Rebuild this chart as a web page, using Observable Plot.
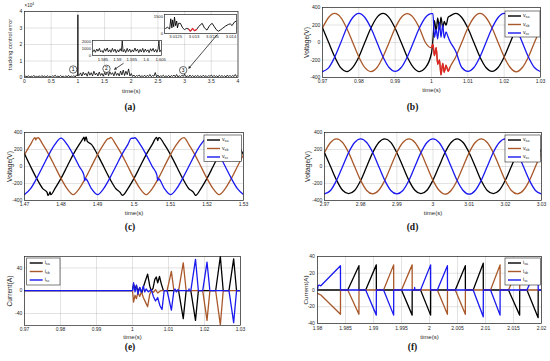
<!DOCTYPE html>
<html><head><meta charset="utf-8">
<script src="https://cdn.jsdelivr.net/npm/d3@7"></script>
<script src="https://cdn.jsdelivr.net/npm/@observablehq/plot@0.6"></script>
<style>
html,body{margin:0;padding:0;background:#fff;}
#fig{position:relative;width:550px;height:361px;overflow:hidden;background:#fff;}
#fig svg{position:absolute;}
</style></head><body><div id="fig"></div>
<script>
// ---------------- (a) tracking control error ----------------
const aXTicks = [0, 0.5, 1, 1.5, 2, 2.5, 3, 3.5, 4];
const aYTicks = [0, 10000, 20000, 30000, 40000];
const errPts = [
[0,300],[0.025,900],[0.05,400],[0.075,1100],[0.1,200],[0.125,800],[0.15,500],[0.175,1300],[0.2,300],[0.225,700],
[0.25,400],[0.275,1000],[0.3,250],[0.325,1200],[0.35,500],[0.375,900],[0.4,300],[0.425,1100],[0.45,400],[0.475,800],
[0.5,200],[0.525,1000],[0.55,600],[0.575,1400],[0.6,300],[0.625,900],[0.65,400],[0.675,1200],[0.7,500],[0.725,800],
[0.75,300],[0.775,1000],[0.8,400],[0.825,1300],[0.85,200],[0.875,900],[0.9,500],[0.925,1100],[0.95,300],[0.975,1600],
[0.996,900],[1.0,38000],[1.004,1500],
[1.025,1200],[1.05,2800],[1.075,900],[1.1,3200],[1.125,1500],[1.15,2600],[1.175,800],[1.2,3500],[1.225,1400],[1.25,2900],
[1.275,1000],[1.3,3800],[1.325,1600],[1.35,2700],[1.375,900],[1.4,3300],[1.425,1200],[1.45,2500],[1.475,800],[1.5,3000],
[1.525,1500],[1.55,4200],[1.575,1100],[1.6,3400],[1.625,1800],[1.65,2900],[1.675,1000],[1.7,3600],[1.725,1300],[1.75,2600],
[1.775,900],[1.8,3900],[1.825,1500],[1.85,4500],[1.875,1200],[1.9,3800],[1.925,1700],[1.95,5200],[1.975,900],[2.0,2400],
[2.025,600],[2.05,1500],[2.075,400],[2.1,1200],[2.125,700],[2.15,1600],[2.175,300],[2.2,1100],[2.225,500],[2.25,1400],
[2.275,400],[2.3,1300],[2.325,600],[2.35,1800],[2.375,500],[2.4,1200],[2.425,800],[2.45,3000],[2.475,400],[2.5,1500],
[2.525,300],[2.55,1100],[2.575,600],[2.6,1400],[2.625,400],[2.65,1000],[2.675,500],[2.7,1300],[2.725,300],[2.75,1200],
[2.775,700],[2.8,1500],[2.825,400],[2.85,1800],[2.875,300],[2.9,1100],[2.925,500],[2.95,1400],[2.975,600],[3.0,2000],
[3.025,400],[3.05,1000],[3.075,300],[3.1,1500],[3.125,500],[3.15,1200],[3.175,400],[3.2,1100],[3.225,600],[3.25,1300],
[3.275,300],[3.3,1000],[3.325,500],[3.35,1400],[3.375,400],[3.4,1200],[3.425,300],[3.45,1100],[3.475,700],[3.5,1500],
[3.525,400],[3.55,1300],[3.575,500],[3.6,1000],[3.625,300],[3.65,1400],[3.675,600],[3.7,1200],[3.725,400],[3.75,1100],
[3.775,300],[3.8,1500],[3.825,500],[3.85,1300],[3.875,400],[3.9,1200],[3.925,600],[3.95,1800],[3.975,500],[4.0,1400]
];
const in1XTicks = [1.585, 1.59, 1.595, 1.6, 1.605];
const in1YTicks = [0, 1000, 2000];
const in1Pts = [
[1.5815,500],[1.5820,800],[1.5824,450],[1.5829,900],[1.5833,600],[1.5838,1000],[1.5842,500],[1.5847,700],[1.5851,400],[1.5856,950],
[1.5860,600],[1.5865,1050],[1.5869,500],[1.5874,800],[1.5878,450],[1.5883,1000],[1.5887,550],[1.5892,900],[1.5896,400],[1.5901,800],
[1.5905,500],[1.5910,950],[1.5914,600],[1.5917,2050],[1.5920,500],[1.5925,850],[1.5929,400],[1.5934,1000],[1.5938,550],[1.5943,900],
[1.5947,450],[1.5952,800],[1.5956,500],[1.5961,1050],[1.5965,600],[1.5970,900],[1.5974,400],[1.5979,850],[1.5983,500],[1.5988,1000],
[1.5992,450],[1.5997,900],[1.6001,550],[1.6006,800],[1.6010,400],[1.6015,950],[1.6019,600],[1.6024,1000],[1.6028,500],[1.6033,850],
[1.6037,450],[1.6041,900],[1.6044,2050],[1.6047,500],[1.6052,800]
];
const in2XTicks = [3.0125, 3.013, 3.0135, 3.014];
const in2YTicks = [0, 1500];
const in2Pts = [
[3.01223,450],[3.01228,550],[3.01234,400],[3.01237,1300],[3.0124,500],[3.01242,1200],[3.01245,600],[3.01247,1450],[3.0125,700],[3.01253,1100],
[3.01255,500],[3.01258,900],[3.01263,900],[3.01269,500],[3.01274,350],[3.0128,450],[3.01285,400],[3.0129,200],[3.01296,450],[3.01301,250],
[3.01307,350],[3.01312,600],[3.01322,900],[3.01328,500],[3.01335,300],[3.01342,700],[3.01349,900],[3.01355,600],[3.0136,350],[3.01366,200],
[3.01371,300],[3.01377,450],[3.01385,650],[3.01393,800],[3.01398,850],[3.01403,700],[3.01409,1000],[3.01414,1100]
];
const in2Red = [3.01285, 3.01307];
const circleNotes = [{t:0.912, v:4850, label:"1"}, {t:1.536, v:5270, label:"2"}, {t:2.973, v:4420, label:"3"}];
const arrowNotes = [{t1:1.85, v1:8500, t2:1.69, v2:5000}, {t1:3.61, v1:25900, t2:3.08, v2:5640}];

// ---------------- voltage panels (b) (c) (d) ----------------
const vYTicks = [-400, -200, 0, 200, 400];
const bXTicks = [0.97, 0.98, 0.99, 1, 1.01, 1.02, 1.03];
const tB = [0.97,0.97167,0.97333,0.975,0.97667,0.97833,0.98,0.98167,0.98333,0.985,0.98667,0.98833,0.99,0.99167,0.99333,0.995,0.99667,0.99833,1.0,
 1.0004,1.0008,1.0013,1.0017,1.0022,1.0026,1.0031,1.0035,1.004,1.0046,1.005,
 1.00667,1.00833,1.01,1.01167,1.01333,1.015,1.01667,1.01833,1.02,1.02167,1.02333,1.025,1.02667,1.02833,1.03];
const vaB = [168,2,-160,-288,-332,-284,-166,3,165,287,332,285,163,0,-166,-284,-332,-288,-120,
 40,250,130,280,150,290,170,240,200,290,300,
 332,286,165,0,-165,-286,-330,-286,-165,0,165,286,328,286,170];
const vbB = [165,286,332,288,163,0,-165,-288,-332,-286,-162,0,165,286,330,285,166,0,-60,
 -20,-150,-60,-250,-200,-370,-240,-340,-260,-330,-290,
 -165,0,165,286,332,286,165,0,-165,-286,-335,-286,-165,0,165];
const vcB = [-332,-290,-170,-5,165,286,332,286,165,0,-165,-286,-330,-286,-165,0,165,286,330,
 330,60,150,40,230,60,200,50,120,60,20,
 -100,-286,-330,-286,-165,0,165,286,332,286,165,0,-165,-286,-332];
const bRed = [1.0, 1.005];

const cXTicks = [1.47, 1.48, 1.49, 1.5, 1.51, 1.52, 1.53];
const tC = [1.47,1.47167,1.47333,1.475,1.47667,1.47833,1.48,1.48167,1.48333,1.485,1.48667,1.48833,1.49,1.49167,1.49333,1.495,1.49667,1.49833,1.5,
 1.50167,1.50333,1.505,1.50667,1.50833,1.51,1.51167,1.51333,1.515,1.51667,1.51833,1.52,1.52167,1.52333,1.525,1.52667,1.52833,1.53];
const vaC = [150,0,-140,-260,-330,-260,-140,0,140,260,330,260,140,0,-140,-260,-335,-260,-140,0,140,260,330,260,140,0,-140,-260,-330,-260,-140,0,140,260,335,260,140];
const vbC = [140,260,335,260,140,0,-140,-260,-330,-260,-140,0,140,260,330,260,140,0,-140,-260,-330,-260,-140,0,140,260,335,260,140,0,-140,-260,-330,-260,-140,0,140];
const vcC = [-330,-260,-140,0,140,260,335,260,140,0,-140,-260,-330,-260,-140,0,140,260,335,260,140,0,-140,-260,-330,-260,-140,0,140,260,335,260,140,0,-140,-260,-330];
const gaC = [[1.4762,-305],[1.4764,-338],[1.4770,-300],[1.4772,-332],[1.4859,318],[1.4863,345],[1.4865,300],[1.4869,348],[1.4872,295],
 [1.4963,-310],[1.4969,-338],[1.5062,342],[1.5065,305],[1.5069,340],[1.5163,-305],[1.5169,-340],[1.5263,335],[1.5265,300],[1.527,338]];
const gbC = [[1.4729,340],[1.4731,312],[1.4737,338],[1.4928,325],[1.4936,342],[1.5128,320],[1.5137,340]];
const gcC = [[1.4863,-105],[1.4865,-168],[1.4869,-148],[1.4992,330],[1.5002,338],[1.5063,-105],[1.5065,-168],[1.5069,-148]];

const dXTicks = [2.97, 2.98, 2.99, 3, 3.01, 3.02, 3.03];
const tD = [2.97,2.97167,2.97333,2.975,2.97667,2.97833,2.98,2.98167,2.98333,2.985,2.98667,2.98833,2.99,2.99167,2.99333,2.995,2.99667,2.99833,3.0,
 3.00167,3.00333,3.005,3.00667,3.00833,3.01,3.01167,3.01333,3.015,3.01667,3.01833,3.02,3.02167,3.02333,3.025,3.02667,3.02833,3.03];
const vaD = [163,0,-160,-280,-318,-282,-165,0,163,282,325,284,162,0,-163,-280,-320,-280,-160,2,165,283,326,282,162,0,-165,-282,-318,-280,-162,0,163,282,322,280,165];
const vbD = [165,283,325,282,163,0,-163,-282,-322,-280,-163,0,165,282,324,283,165,0,-163,-280,-325,-282,-165,0,163,282,325,282,163,0,-165,-282,-322,-280,-163,0,165];
const vcD = [-322,-282,-163,0,163,282,325,282,165,0,-163,-282,-322,-282,-165,0,163,282,324,282,163,0,-165,-282,-325,-282,-163,0,165,282,325,283,163,0,-163,-282,-322];

// ---------------- current panels (e) (f) ----------------
const eXTicks = [0.97, 0.98, 0.99, 1, 1.01, 1.02, 1.03];
const eYTicks = [-40, 0, 40];
const iaE = [[0.97,0],[1.0,0],[1.0003,11],[1.0007,3],[1.0011,9],[1.0015,-2],[1.002,5],[1.0026,-4],[1.003,6],[1.0036,18],[1.0042,29],[1.0048,8],
 [1.0052,0],[1.0057,4],[1.0062,20],[1.0066,24],[1.007,14],[1.0075,25],[1.008,12],[1.0086,0],[1.0128,0],[1.0141,-49],[1.0149,0],
 [1.0162,0],[1.0175,-52],[1.0183,0],[1.0231,0],[1.0244,60],[1.0252,0],[1.0268,0],[1.0281,56],[1.0289,0],[1.03,0]];
const ibE = [[0.97,0],[1.0,0],[1.0003,-20],[1.0007,-8],[1.0011,-14],[1.0015,-3],[1.002,-10],[1.0025,-2],[1.003,-12],[1.0036,-20],[1.0042,-28],
 [1.0048,-6],[1.0052,0],[1.0058,-3],[1.0064,2],[1.007,-4],[1.0078,0],[1.0096,0],[1.0108,34],[1.0115,0],[1.0128,0],[1.0141,49],[1.0149,0],
 [1.0195,0],[1.0207,-52],[1.0215,0],[1.0231,0],[1.0244,-60],[1.0252,0],[1.03,0]];
const icE = [[0.97,0],[1.0,0],[1.0003,14],[1.0007,-2],[1.0011,10],[1.0015,-6],[1.002,6],[1.0025,-3],[1.003,8],[1.0034,-2],[1.0038,3],[1.0044,-2],
 [1.0052,2],[1.0058,-10],[1.0064,-18],[1.007,-12],[1.0076,-26],[1.0082,-33],[1.0088,0],[1.0096,0],[1.0108,-34],[1.0115,0],[1.0118,3],
 [1.0122,-2],[1.0126,2],[1.013,0],[1.0156,0],[1.0157,3],[1.0158,0],[1.0162,0],[1.0175,55],[1.0183,0],[1.0195,0],[1.0207,50],[1.0215,0],
 [1.0268,0],[1.0281,-56],[1.0289,0],[1.03,0]];

const fXTicks = [1.98, 1.985, 1.99, 1.995, 2, 2.005, 2.01, 2.015, 2.02];
const fYTicks = [-40, -20, 0, 20, 40];
const iaF = [[1.98,0],[1.9854,0],[1.9874,29],[1.98741,0],[1.9886,0],[1.9905,30],[1.99051,0],[1.995,0],[1.9969,-30],[1.99691,0],
 [1.9984,0],[2.0002,-30],[2.00021,0],[2.0046,0],[2.0064,29],[2.00641,0],[2.0078,0],[2.0096,32],[2.00961,0],
 [2.0141,0],[2.0161,-30],[2.01611,0],[2.0174,0],[2.0194,-33],[2.01941,0],[2.02,0]];
const ibF = [[1.98,-4],[1.9806,-6],[1.9841,-29],[1.98411,0],[1.9854,0],[1.9874,-29],[1.98741,0],[1.9918,0],[1.9936,30],[1.99361,0],
 [1.995,0],[1.9969,30],[1.99691,0],[2.0014,0],[2.0032,-29],[2.00321,0],[2.0046,0],[2.0064,-29],[2.00641,0],
 [2.0109,0],[2.0126,30],[2.01261,0],[2.0141,0],[2.0161,30],[2.01611,0],[2.02,0]];
const icF = [[1.98,0],[1.9801,5],[1.9803,6],[1.9806,5],[1.9841,29],[1.98411,0],[1.9886,0],[1.9905,-30],[1.99051,0],
 [1.9918,0],[1.9936,-30],[1.99361,0],[1.9973,0],[1.99735,3],[1.9974,0],[1.9984,0],[2.0002,30],[2.00021,0],
 [2.0014,0],[2.0032,29],[2.00321,0],[2.0078,0],[2.0096,-32],[2.00961,0],[2.0109,0],[2.0126,-30],[2.01261,0],
 [2.0174,0],[2.0194,30],[2.01941,0],[2.02,0]];

const vLegend = [["v","sa"],["v","sb"],["v","sc"]];
const iLegend = [["i","sa"],["i","sb"],["i","sc"]];
const panelLetters = ["(a)","(b)","(c)","(d)","(e)","(f)"];

// ---------------- drawing ----------------
const FONT = "Liberation Sans, Arial, Helvetica, sans-serif";
const INK = "#262626";
const COL = {a:"#000000", b:"#a9582a", c:"#1a1af0"};
const fig = document.getElementById("fig");

const pts = pairs => pairs.map(([t,v]) => ({t, v}));
function merge(ts, vs, extra = []) {
  const p = ts.map((t,i) => ({t, v: vs[i]})).filter(d => d.v !== undefined).concat(pts(extra));
  p.sort((a,b) => a.t - b.t);
  return p;
}
const fmt = d => String(d);

function panel(o) {
  const [L,T,W,H] = o.box, [fl,fr,ft,fb] = o.frame;
  const fs = o.fs ?? 5;
  const marks = [];
  if (o.bg) marks.push(Plot.frame({fill:"#fff"}));
  if (o.grid !== false) {
    marks.push(Plot.gridX({ticks:o.xt, stroke:INK, strokeOpacity:0.13}));
    marks.push(Plot.gridY({ticks:o.yt, stroke:INK, strokeOpacity:0.13}));
  }
  marks.push(...o.marks);
  marks.push(Plot.frame({stroke:INK, strokeWidth:0.7}));
  marks.push(Plot.axisX({ticks:o.xt, tickFormat:o.xf || fmt, tickSize:0, tickPadding:o.xp ?? 2.3, label:null, fontSize:fs}));
  marks.push(Plot.axisY({ticks:o.yt, tickFormat:o.yf || fmt, tickSize:0, tickPadding:o.yp ?? 2.2, label:null, fontSize:fs}));
  if (o.xlabel) marks.push(Plot.text([o.xlabel], {frameAnchor:"bottom", dy:o.xly, text:d=>d, fontSize:6, fill:INK,
    textAnchor:"middle", lineAnchor:"middle"}));
  if (o.ylabel) marks.push(Plot.text([o.ylabel], {frameAnchor:"left", dx:o.ylx, rotate:-90, text:d=>d, fontSize:o.yls ?? 6.6, fill:INK,
    textAnchor:"middle", lineAnchor:"middle"}));
  const svg = Plot.plot({
    width:W, height:H, marginLeft:fl-L, marginRight:L+W-fr, marginTop:ft-T, marginBottom:T+H-fb,
    style:{fontFamily:FONT, fontSize:fs+"px", color:INK, background:"transparent", overflow:"visible"},
    x:{domain:o.xd, axis:null}, y:{domain:o.yd, axis:null}, marks
  });
  svg.style.left = L + "px"; svg.style.top = T + "px";
  fig.appendChild(svg);
}

const line = (data, color, w = 1.3, curve = "linear") => Plot.line(data, {x:"t", y:"v", stroke:color, strokeWidth:w, curve, clip:true});

// (a)
panel({box:[0,0,275,100], frame:[24,237.5,11,77], xd:[0,4], yd:[0,40000], xt:aXTicks, yt:aYTicks, yf:d=>String(d/1e4),
  marks:[
    line(pts(errPts), "#000", 0.8),
    Plot.arrow(arrowNotes, {x1:"t1", y1:"v1", x2:"t2", y2:"v2", stroke:"#000", strokeWidth:0.7, headLength:4}),
    Plot.dot(circleNotes, {x:"t", y:"v", r:3.7, fill:"#fff", stroke:"#000", strokeWidth:0.6}),
    Plot.text(circleNotes, {x:"t", y:"v", text:"label", fontSize:5, fill:"#000"})
  ],
  ylabel:"tracking control error", yls:5.6, ylx:-14, xlabel:"time(s)", xly:13.7});
// insets
panel({box:[70,35,100,32], frame:[92,161,40,55], xd:[1.5814,1.6053], yd:[0,2098], xt:in1XTicks, yt:in1YTicks, fs:4.2, xp:2.5, yp:1.5, bg:true, grid:false,
  marks:[line(pts(in1Pts), "#000", 0.8)]});
panel({box:[145,8,100,36], frame:[164,236,14,33], xd:[3.0122,3.01415], yd:[0,1680], xt:in2XTicks, yt:in2YTicks, fs:4.2, xp:2, yp:1.5, bg:true, grid:false,
  marks:[line(pts(in2Pts), "#000", 0.9), line(pts(in2Pts).filter(d => d.t >= in2Red[0] && d.t <= in2Red[1]), "#e8202a", 1.1)]});

// (b)
const bA = merge(tB, vaB), bB = merge(tB, vbB), bC = merge(tB, vcB);
panel({box:[275,0,275,100], frame:[322,540,7,77], xd:[0.97,1.03], yd:[-400,400], xt:bXTicks, yt:vYTicks,
  marks:[line(bA, COL.a, 1.3, "monotone-x"), line(bB, COL.b, 1.3, "monotone-x"),
         line(bB.filter(d => d.t >= bRed[0] && d.t <= bRed[1]), "#e02424", 1.3, "monotone-x"),
         line(bC, COL.c, 1.3, "monotone-x")],
  ylabel:"Voltage(V)", ylx:-16, xlabel:"time(s)", xly:13});
// (c)
panel({box:[0,120,275,100], frame:[24,243,132,200], xd:[1.47,1.53], yd:[-400,400], xt:cXTicks, yt:vYTicks,
  marks:[line(merge(tC, vaC, gaC), COL.a, 1.3, "monotone-x"), line(merge(tC, vbC, gbC), COL.b, 1.3, "monotone-x"),
         line(merge(tC, vcC, gcC), COL.c, 1.3, "monotone-x")],
  ylabel:"Voltage(V)", ylx:-15, xlabel:"time(s)", xly:12.3});
// (d)
panel({box:[275,120,275,100], frame:[324,541,132,200], xd:[2.97,3.03], yd:[-400,400], xt:dXTicks, yt:vYTicks,
  marks:[line(merge(tD, vaD), COL.a, 1.3, "monotone-x"), line(merge(tD, vbD), COL.b, 1.3, "monotone-x"),
         line(merge(tD, vcD), COL.c, 1.3, "monotone-x")],
  ylabel:"Voltage(V)", ylx:-17, xlabel:"time(s)", xly:12.3});
// (e)
panel({box:[0,240,275,100], frame:[24,240,256,325], xd:[0.97,1.03], yd:[-61,60], xt:eXTicks, yt:eYTicks,
  marks:[line(pts(iaE), COL.a), line(pts(ibE), COL.b), line(pts(icE), COL.c)],
  ylabel:"Current(A)", ylx:-14.5, xlabel:"time(s)", xly:11.7});
// (f)
panel({box:[275,240,275,100], frame:[317,541,256,323], xd:[1.98,2.02], yd:[-40,40], xt:fXTicks, yt:fYTicks, xp:3, yp:2.6,
  marks:[line(pts(iaF), COL.a), line(pts(ibF), COL.b), line(pts(icF), COL.c)],
  ylabel:"Current(A)", ylx:-11, yls:6.2, xlabel:"time(s)", xly:13.6});

// overlay: legends, panel letters, exponent
const ov = d3.create("svg").attr("width", 550).attr("height", 361).style("left","0px").style("top","0px");
function legend(x0, y0, w, h, labels) {
  const g = ov.append("g");
  g.append("rect").attr("x", x0).attr("y", y0).attr("width", w).attr("height", h)
    .attr("fill", "#fff").attr("stroke", INK).attr("stroke-width", 0.6);
  [COL.a, COL.b, COL.c].forEach((c, i) => {
    const y = y0 + 5 + i * 8.5;
    g.append("line").attr("x1", x0 + 3).attr("x2", x0 + 16).attr("y1", y).attr("y2", y)
      .attr("stroke", c).attr("stroke-width", 1.4);
    const t = g.append("text").attr("x", x0 + 18).attr("y", y + 1.2)
      .attr("font-family", FONT).attr("font-size", 5.2).attr("fill", INK);
    t.append("tspan").text(labels[i][0]);
    t.append("tspan").attr("font-size", 3.6).attr("dy", 1.2).text(labels[i][1]);
  });
}
legend(505, 11, 35, 26, vLegend);
legend(204, 135, 37.5, 26.5, vLegend);
legend(505, 135, 35.5, 27, vLegend);
legend(26.7, 258, 33.3, 27, iLegend);
legend(505, 258, 35.5, 27, iLegend);

const letterPos = [[130,107],[412.5,107],[130,227],[412.5,227],[130,347],[412.5,347]];
panelLetters.forEach((s, i) => {
  ov.append("text").attr("x", letterPos[i][0]).attr("y", letterPos[i][1] + 3).attr("text-anchor", "middle")
    .attr("font-family", "Liberation Serif, Times New Roman, serif").attr("font-weight", "bold")
    .attr("font-size", 9.5).attr("fill", "#111").text(s);
});
const ex = ov.append("text").attr("x", 24.5).attr("y", 6.5).attr("font-family", FONT).attr("font-size", 4.5).attr("fill", INK);
ex.append("tspan").text("\u00d710");
ex.append("tspan").attr("font-size", 3.4).attr("dy", -2).text("4");
fig.appendChild(ov.node());
</script>
</body></html>
